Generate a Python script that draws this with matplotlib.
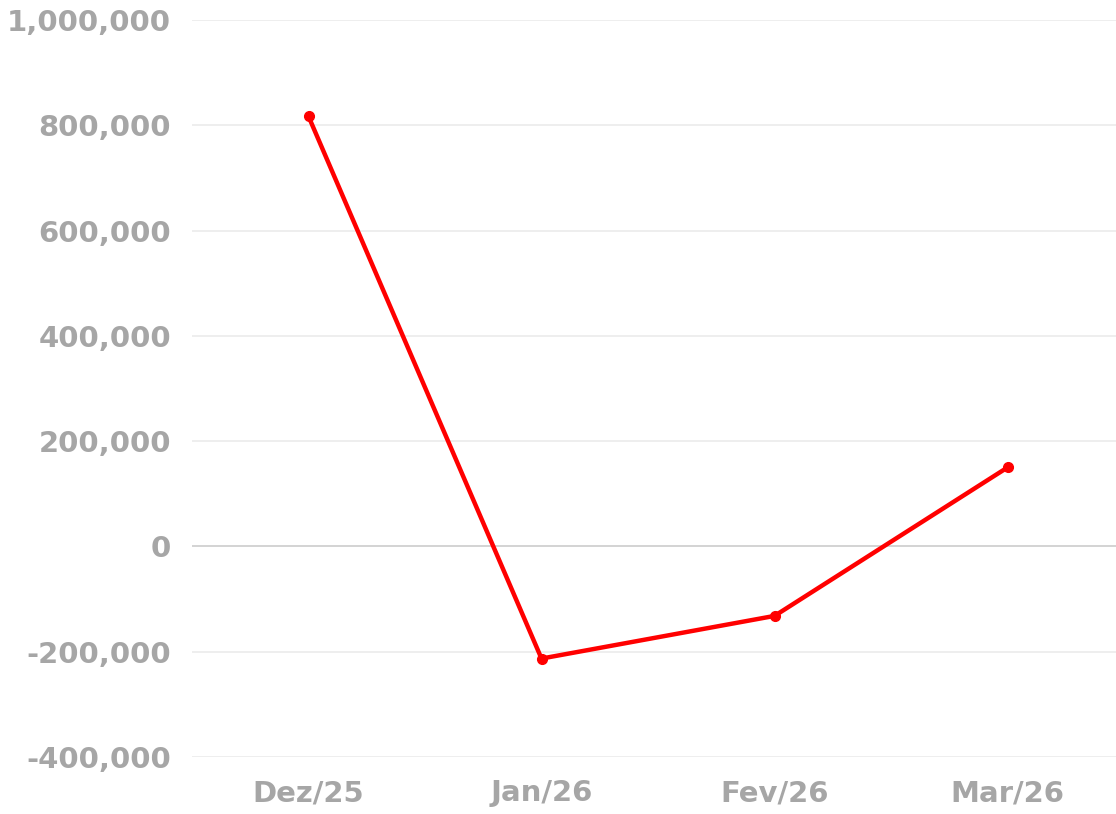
import matplotlib
matplotlib.use("Agg")
import matplotlib.pyplot as plt
from matplotlib.ticker import FuncFormatter, FixedLocator

# Data
months = ["Dez/25", "Jan/26", "Fev/26", "Mar/26"]
values = [817000, -213000, -132000, 150000]
y_ticks = [-400000, -200000, 0, 200000, 400000, 600000, 800000, 1000000]

_RED = "#ff0000"
_TEXT = "#a6a6a6"
_GRID = "#ebebeb"
_ZERO = "#cccccc"

plt.rcParams["font.family"] = ["DejaVu Sans"]

fig = plt.figure(figsize=(11.16, 8.14), dpi=100)
# axes in pixel terms: x 192..1124, y 20..757 (top-down)
ax = fig.add_axes([192 / 1116, 1 - 757 / 814, 932 / 1116, 737 / 814])

x = list(range(len(months)))
ax.plot(x, values, color=_RED, lw=3.2, marker="o", ms=7, zorder=3,
        solid_capstyle="round", clip_on=False)

ax.set_xlim(-0.5, len(months) - 0.5)
ax.set_ylim(y_ticks[0], y_ticks[-1])
ax.yaxis.set_major_locator(FixedLocator(y_ticks))
ax.yaxis.set_major_formatter(FuncFormatter(lambda v, _: f"{v:,.0f}"))
ax.set_xticks(x)
ax.set_xticklabels(months)

for yv in y_ticks:
    ax.axhline(yv, color=_ZERO if yv == 0 else _GRID, lw=1.2, zorder=1)

for s in ax.spines.values():
    s.set_visible(False)
ax.tick_params(axis="both", length=0, labelcolor=_TEXT, labelsize=21)
ax.tick_params(axis="y", pad=15)
ax.tick_params(axis="x", pad=16)
for lab in ax.get_xticklabels() + ax.get_yticklabels():
    lab.set_fontweight("bold")

fig.savefig("out.png", dpi=100)
